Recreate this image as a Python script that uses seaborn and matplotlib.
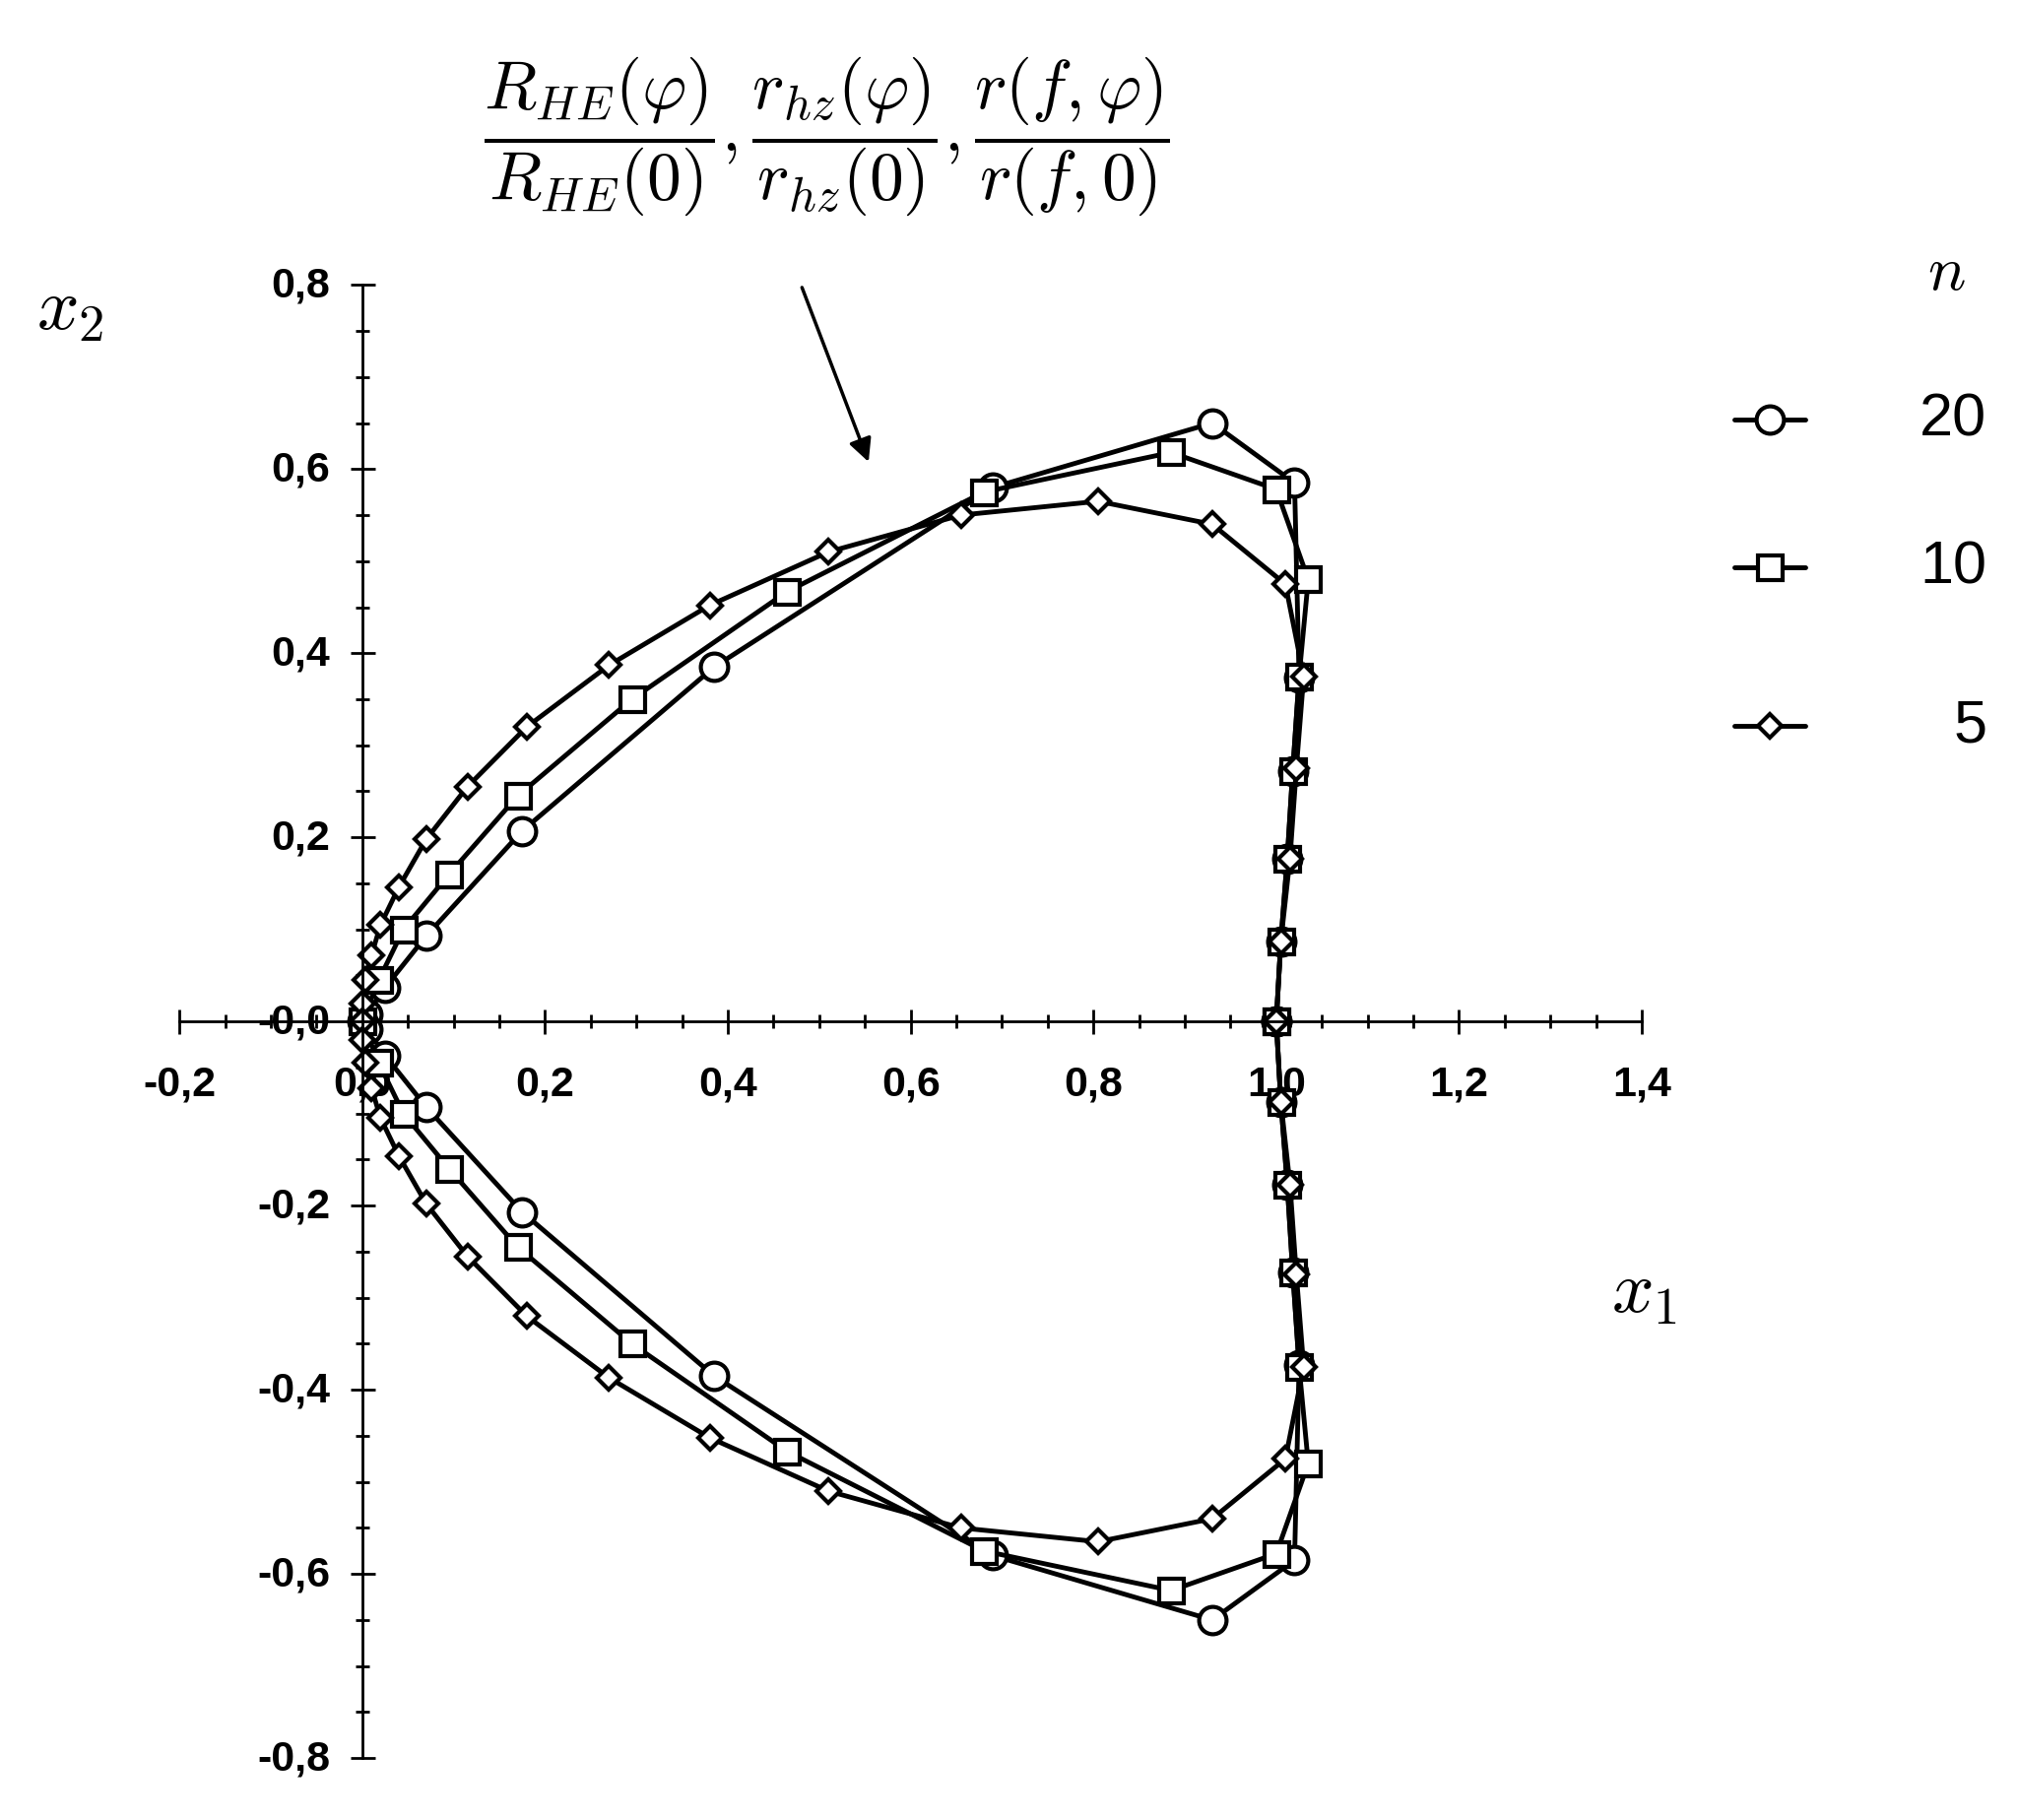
import numpy as np
import pandas as pd
import matplotlib
matplotlib.use("Agg")
import matplotlib.pyplot as plt
import seaborn as sns
from matplotlib.ticker import MultipleLocator

sns.set_style("white")
plt.rcParams['font.family'] = ['Liberation Sans', 'DejaVu Sans']
plt.rcParams['mathtext.fontset'] = 'cm'
plt.rcParams['text.color'] = 'black'
plt.rcParams['xtick.color'] = 'black'
plt.rcParams['ytick.color'] = 'black'

# upper half (x1, x2); lower half is mirrored
x20 = [1.0, 1.005, 1.012, 1.018, 1.025, 1.02, 0.93, 0.69, 0.385, 0.175, 0.07, 0.025, 0.005, 0.0]
y20 = [0.0, 0.087, 0.177, 0.272, 0.373, 0.585, 0.65, 0.58, 0.385, 0.207, 0.093, 0.037, 0.008, 0.0]
x10 = [1.0, 1.005, 1.012, 1.018, 1.025, 1.035, 1.0, 0.885, 0.68, 0.465, 0.295, 0.17, 0.095, 0.045, 0.018, 0.0]
y10 = [0.0, 0.087, 0.177, 0.272, 0.375, 0.48, 0.578, 0.618, 0.575, 0.467, 0.35, 0.245, 0.16, 0.1, 0.045, 0.0]
x5 = [1.0, 1.005, 1.015, 1.022, 1.03, 1.01, 0.93, 0.805, 0.655, 0.51, 0.38, 0.27, 0.18, 0.115, 0.07, 0.04, 0.02, 0.01, 0.003, 0.0, 0.0]
y5 = [0.0, 0.087, 0.177, 0.275, 0.375, 0.475, 0.54, 0.565, 0.55, 0.51, 0.452, 0.387, 0.32, 0.255, 0.198, 0.146, 0.105, 0.072, 0.045, 0.02, 0.0]
labels = ["20", "10", "5"]
markers = {"20": "o", "10": "s", "5": "D"}
msizes = {"20": 20, "10": 18, "5": 12}

def closed(xs, ys):
    xs = list(xs); ys = list(ys)
    return xs + xs[::-1][1:], ys + [-v for v in ys[::-1][1:]]

fig = plt.figure(figsize=(20.48, 18.49), dpi=100)
ax = fig.add_axes([0.089, 0.034, 0.725, 0.809])

for lab, xs, ys in zip(labels, [x20, x10, x5], [y20, y10, y5]):
    X, Y = closed(xs, ys)
    df = pd.DataFrame({"x1": X, "x2": Y})
    sns.lineplot(data=df, x="x1", y="x2", sort=False, estimator=None, ax=ax, color="black", lw=3.5,
                 marker=markers[lab], markersize=msizes[lab], markerfacecolor="white",
                 markeredgecolor="black", markeredgewidth=3)

ax.set_xlim(-0.2, 1.4)
ax.set_ylim(-0.8, 0.8)
ax.spines['left'].set_position(('data', 0))
ax.spines['bottom'].set_position(('data', 0))
ax.spines['right'].set_visible(False)
ax.spines['top'].set_visible(False)
for s in ['left', 'bottom']:
    ax.spines[s].set_linewidth(2)
    ax.spines[s].set_color('black')
ax.xaxis.set_minor_locator(MultipleLocator(0.05))
ax.yaxis.set_minor_locator(MultipleLocator(0.05))
ax.tick_params(axis='both', which='both', direction='inout', color='black', width=2,
               bottom=True, left=True)
ax.tick_params(which='major', length=18)
ax.tick_params(which='minor', length=10)
ax.tick_params(axis='x', pad=22)
ax.set_xlabel(""); ax.set_ylabel("")
if ax.get_legend(): ax.get_legend().remove()

xt = np.round(np.arange(-0.2, 1.41, 0.2), 1)
ax.set_xticks(xt)
ax.set_xticklabels([f"{v:.1f}".replace(".", ",") for v in xt], fontsize=31, fontweight='bold')
yt = np.round(np.arange(-0.8, 0.81, 0.2), 1)
ax.set_yticks(yt)
ax.yaxis.set_tick_params(labelleft=False)
for v in yt:
    ax.text(-0.035, v, f"{v:.1f}".replace(".", ","), fontsize=31, fontweight='bold',
            ha='right', va='center', transform=ax.transData)

fig.text(0.035, 0.83, r"$x_2$", fontsize=54, ha='center', va='center')
fig.text(0.815, 0.29, r"$x_1$", fontsize=54, ha='center', va='center')
fig.text(0.41, 0.925,
         r"$\dfrac{R_{HE}(\varphi)}{R_{HE}(0)},\dfrac{r_{hz}(\varphi)}{r_{hz}(0)},\dfrac{r(f,\varphi)}{r(f,0)}$",
         fontsize=50, ha='center', va='center')
ax.annotate("", xy=(0.555, 0.605), xytext=(0.48, 0.80), xycoords='data', textcoords='data',
            arrowprops=dict(arrowstyle='-|>', color='black', lw=2.5, mutation_scale=35),
            annotation_clip=False)

# legend
fig.text(0.965, 0.85, r"$n$", fontsize=46, ha='center', va='center')
for k, lab in enumerate(labels):
    yy = [0.769, 0.688, 0.601][k]
    fig.add_artist(plt.Line2D([0.86, 0.895], [yy, yy], color='black', lw=3.5))
    fig.add_artist(plt.Line2D([0.8775], [yy], color='black', marker=markers[lab],
                              markersize=msizes[lab], markerfacecolor='white', markeredgewidth=3))
    fig.text(0.985, yy, lab, fontsize=44, ha='right', va='center')

fig.savefig("out.png", dpi=100)
